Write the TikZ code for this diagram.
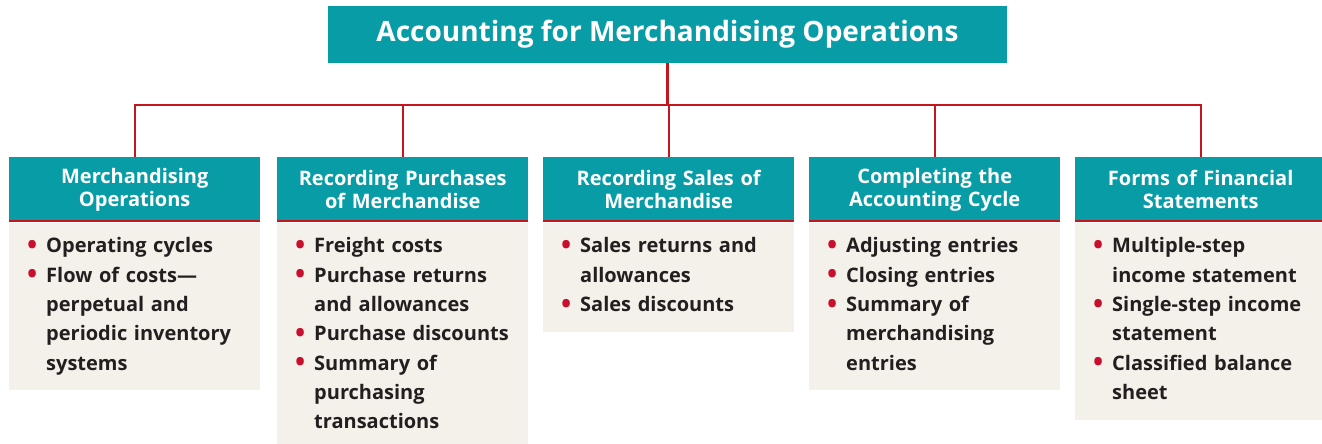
\documentclass[tikz,border=0pt]{standalone}
\usepackage{fontspec}
\setmainfont{Open Sans}
\definecolor{hdrteal}{HTML}{089CA6}
\definecolor{linered}{HTML}{C4161C}
\definecolor{bulred}{HTML}{C8102E}
\definecolor{bodybg}{HTML}{F4F1EA}
\definecolor{bodytext}{HTML}{231F20}
\newcommand{\itm}{\par\noindent\hangindent=18pt\hangafter=1\makebox[18pt][l]{\hspace*{-1pt}\raisebox{-1.5pt}{\textcolor{bulred}{\fontsize{27}{27}\selectfont •}}}}
\begin{document}
\begin{tikzpicture}[x=1pt,y=-1pt,
  titlebox/.style={fill=hdrteal,text=white,minimum width=679pt,minimum height=57pt,inner sep=0pt,font=\bfseries\fontsize{28}{32}\selectfont},
  hdrbox/.style={fill=hdrteal,text=white,minimum width=251pt,minimum height=65pt,inner sep=0pt,anchor=north west,align=center,text width=245pt,font=\bfseries\fontsize{20}{23}\selectfont},
  bodybox/.style={fill=bodybg,minimum width=251pt,inner sep=0pt,anchor=north west},
  listbox/.style={anchor=north west,inner sep=0pt,text width=232pt,text=bodytext,font=\bfseries\fontsize{20}{29.3}\selectfont,align=left},
  redline/.style={draw=linered,line width=2.6pt},
  conn/.style={draw=linered,line width=2.4pt}]
\useasboundingbox (0,0) rectangle (1322,444);
\node[titlebox] (top) at (667.5,34.5) {Accounting for Merchandising Operations};
\coordinate (bus) at (667.5,105);
% headers
\node[hdrbox] (h1) at (9,157) {Merchandising\\Operations};
\node[hdrbox] (h2) at (277,157) {Recording Purchases\\of Merchandise};
\node[hdrbox] (h3) at (543,157) {Recording Sales of\\Merchandise};
\node[hdrbox] (h4) at (809,157) {Completing the\\Accounting Cycle};
\node[hdrbox] (h5) at (1075,157) {Forms of Financial\\Statements};
% bodies
\node[bodybox,minimum height=167pt] (b1) at (h1.south west) {};
\node[bodybox,minimum height=221pt] (b2) at (h2.south west) {};
\node[bodybox,minimum height=109pt] (b3) at (h3.south west) {};
\node[bodybox,minimum height=167pt] (b4) at (h4.south west) {};
\node[bodybox,minimum height=197pt] (b5) at (h5.south west) {};
% red lines under headers
\foreach \k in {1,...,5}{
  \draw[redline] ([yshift=1.3pt]h\k.south west) -- ([yshift=1.3pt]h\k.south east);
}
% connectors
\draw[conn] (top.south) -- (bus);
\foreach \k in {1,...,5}{
  \draw[conn] (bus) -| (h\k.north);
}
% lists
\node[listbox] (t1) at ([xshift=19pt,yshift=-1pt]b1.north west) {\raggedright
\itm Operating cycles
\itm Flow of costs—\newline perpetual and\newline periodic inventory\newline systems\par};
\node[listbox] (t2) at ([xshift=19pt,yshift=-1pt]b2.north west) {\raggedright
\itm Freight costs
\itm Purchase returns\newline and allowances
\itm Purchase discounts
\itm Summary of\newline purchasing\newline transactions\par};
\node[listbox] (t3) at ([xshift=19pt,yshift=-1pt]b3.north west) {\raggedright
\itm Sales returns and\newline allowances
\itm Sales discounts\par};
\node[listbox] (t4) at ([xshift=19pt,yshift=-1pt]b4.north west) {\raggedright
\itm Adjusting entries
\itm Closing entries
\itm Summary of\newline merchandising\newline entries\par};
\node[listbox] (t5) at ([xshift=19pt,yshift=-1pt]b5.north west) {\raggedright
\itm Multiple-step\newline income statement
\itm Single-step income\newline statement
\itm Classified balance\newline sheet\par};
\end{tikzpicture}
\end{document}
